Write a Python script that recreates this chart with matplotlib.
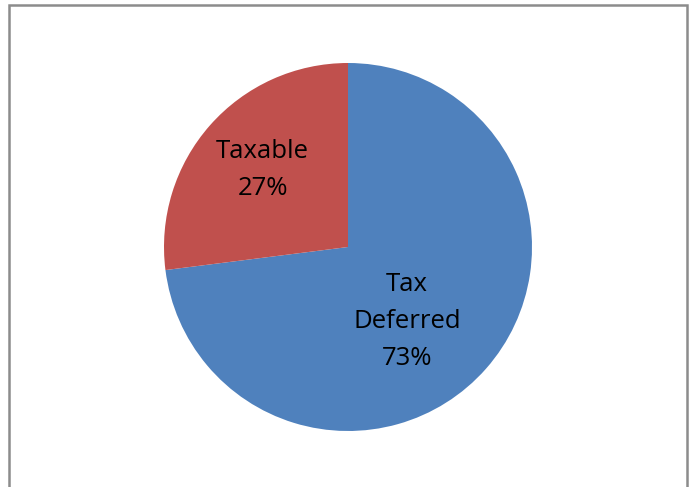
import matplotlib
matplotlib.use("Agg")
import matplotlib.pyplot as plt
from matplotlib.patches import Rectangle

labels = ["Tax\nDeferred", "Taxable"]
shares = [73, 27]
colors = ["#4F81BD", "#C0504D"]

W, H = 694, 487
fig = plt.figure(figsize=(W / 100, H / 100), dpi=100)

# chart area border (bottom edge runs off the image)
fig.patches.append(Rectangle((9 / W, -0.1), 678 / W, 1.1 - 5 / H,
                             transform=fig.transFigure, fill=False,
                             ec="#8c8c8c", lw=1.8))

cx, cy, r = 348, 247, 184
ax = fig.add_axes([(cx - r) / W, (H - cy - r) / H, 2 * r / W, 2 * r / H])
ax.pie(shares, colors=colors, startangle=90, counterclock=False,
       wedgeprops=dict(linewidth=0))
ax.set_xlim(-1, 1)
ax.set_ylim(-1, 1)
ax.set_aspect("equal")
ax.axis("off")

pos = [(0.322, -0.405), (-0.464, 0.42)]
for lab, val, (x, y) in zip(labels, shares, pos):
    ax.text(x, y, f"{lab}\n{val}%", ha="center", va="center",
            fontsize=18.5, family="Open Sans", linespacing=1.62)

fig.savefig("out.png", dpi=100)
